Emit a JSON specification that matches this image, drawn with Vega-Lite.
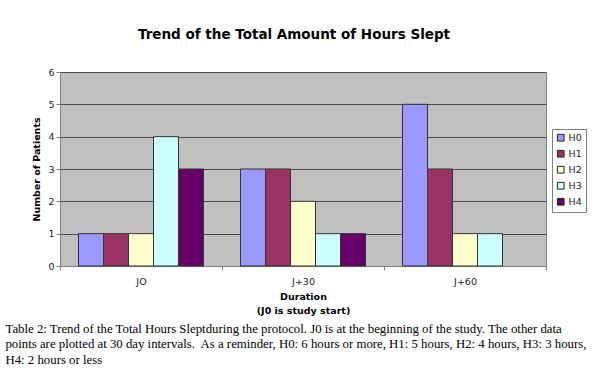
{
  "$schema": "https://vega.github.io/schema/vega-lite/v6.json",
  "background": "white",
  "padding": {"left": 5, "top": 27, "right": 10, "bottom": 5},
  "config": {
    "view": {"stroke": "#808080", "fill": "#C0C0C0"},
    "axis": {"labelFont": "DejaVu Sans", "labelFontSize": 9.5, "labelColor": "#222", "titleFont": "DejaVu Sans", "titleFontSize": 9.5, "titleFontWeight": "bold", "titleColor": "black", "domainColor": "#808080", "tickColor": "#808080", "tickSize": 4, "gridColor": "#4a4a4a", "gridOpacity": 1},
    "legend": {"labelFont": "DejaVu Sans", "labelFontSize": 9.5, "labelColor": "#222"}
  },
  "title": {
    "text": [
      "Table 2: Trend of the Total Hours Sleptduring the protocol. J0 is at the beginning of the study. The other data",
      "points are plotted at 30 day intervals.\u00a0 As a reminder, H0: 6 hours or more, H1: 5 hours, H2: 4 hours, H3: 3 hours,",
      "H4: 2 hours or less"
    ],
    "orient": "bottom",
    "anchor": "start",
    "font": "Liberation Serif",
    "fontSize": 12.8,
    "fontWeight": "normal",
    "color": "black",
    "lineHeight": 15.5,
    "offset": 7,
    "dx": -26
  },
  "vconcat": [
    {
      "title": {"text": "Trend of the Total Amount of Hours Slept", "font": "DejaVu Sans", "fontSize": 13.5, "fontWeight": "bold", "color": "black", "offset": 26, "dx": -9},
      "width": 486,
      "height": 194,
      "data": {
        "values": [
          {"period": "JO", "group": "H0", "count": 1},
          {"period": "JO", "group": "H1", "count": 1},
          {"period": "JO", "group": "H2", "count": 1},
          {"period": "JO", "group": "H3", "count": 4},
          {"period": "JO", "group": "H4", "count": 3},
          {"period": "J+30", "group": "H0", "count": 3},
          {"period": "J+30", "group": "H1", "count": 3},
          {"period": "J+30", "group": "H2", "count": 2},
          {"period": "J+30", "group": "H3", "count": 1},
          {"period": "J+30", "group": "H4", "count": 1},
          {"period": "J+60", "group": "H0", "count": 5},
          {"period": "J+60", "group": "H1", "count": 3},
          {"period": "J+60", "group": "H2", "count": 1},
          {"period": "J+60", "group": "H3", "count": 1},
          {"period": "J+60", "group": "H4", "count": 0}
        ]
      },
      "mark": {"type": "bar", "stroke": "#333333", "strokeWidth": 1},
      "encoding": {
        "x": {
          "field": "period", "type": "nominal", "sort": ["JO", "J+30", "J+60"],
          "scale": {"paddingInner": 0, "paddingOuter": 0},
          "axis": {"title": ["Duration", "(J0 is study start)"], "labelAngle": 0, "tickBand": "extent", "labelPadding": 6, "titlePadding": 6, "titleLineHeight": 14, "grid": false}
        },
        "xOffset": {
          "field": "group", "type": "nominal", "sort": ["H0", "H1", "H2", "H3", "H4"],
          "scale": {"paddingInner": 0, "paddingOuter": 0.74}
        },
        "y": {
          "field": "count", "type": "quantitative",
          "scale": {"domain": [0, 6], "nice": false},
          "axis": {"title": "Number of Patients", "values": [0, 1, 2, 3, 4, 5, 6], "titlePadding": 6, "domain": false}
        },
        "color": {
          "field": "group", "type": "nominal",
          "scale": {"domain": ["H0", "H1", "H2", "H3", "H4"], "range": ["#9999FF", "#993366", "#FFFFCC", "#CCFFFF", "#660066"]},
          "legend": {"title": null, "orient": "none", "legendX": 492, "legendY": 57, "strokeColor": "#808080", "padding": 4, "symbolType": "square", "symbolSize": 45, "symbolStrokeColor": "#222", "symbolStrokeWidth": 1, "rowPadding": 4, "labelOffset": 3}
        },
        "strokeOpacity": {"condition": {"test": "datum.count === 0", "value": 0}, "value": 1}
      }
    }
  ]
}
